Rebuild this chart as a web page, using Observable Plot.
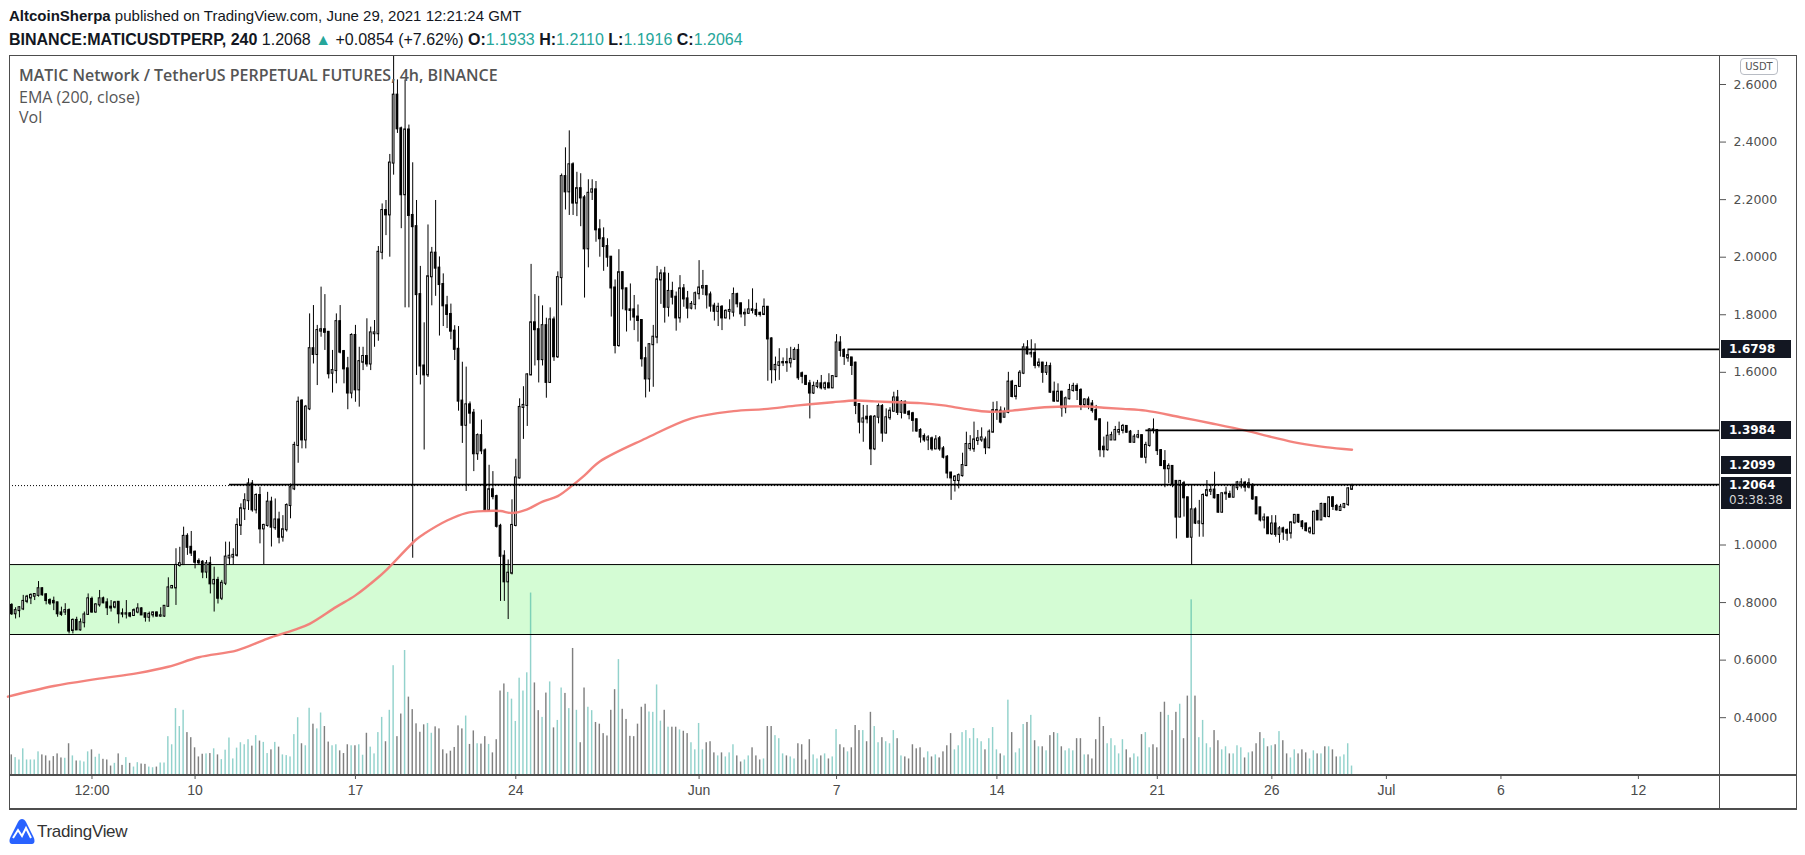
<!DOCTYPE html>
<html>
<head>
<meta charset="utf-8">
<script src="https://cdn.jsdelivr.net/npm/d3@7"></script>
<script src="https://cdn.jsdelivr.net/npm/@observablehq/plot@0.6"></script>
<style>
html,body{margin:0;padding:0;background:#fff;}
#wrap{position:relative;width:1805px;height:855px;overflow:hidden;background:#fff;font-family:"Liberation Sans",Arial,sans-serif;color:#131722;}
#wrap svg{position:absolute;left:0;top:0;}
.ln{position:absolute;background:#4d4d4d;}
.hdr{position:absolute;left:9px;font-size:16px;line-height:20px;white-space:nowrap;}
.teal{color:#26a69a;}
.legend{position:absolute;left:19px;font-family:"Open Sans",sans-serif;font-size:16px;color:#555;white-space:nowrap;line-height:20px;}
.tag{position:absolute;left:1721px;width:70px;background:#131722;color:#fff;font-family:"DejaVu Sans",sans-serif;font-weight:bold;font-size:12px;padding-left:8px;box-sizing:border-box;line-height:18px;}
.badge{position:absolute;left:1740px;top:58px;width:38px;height:17px;border:1px solid #b8bcc4;border-radius:4px;background:#fff;font-family:"DejaVu Sans",sans-serif;font-size:10px;color:#555;text-align:center;line-height:15px;box-sizing:border-box;}
.logo{position:absolute;left:9px;top:818px;display:flex;align-items:center;font-size:17px;color:#333;}
</style>
</head>
<body>
<div id="wrap"></div>
<script>
// ---------- data (4h candles, first candle opens 2021-05-01 20:00 UTC) ----------
const openP = [
.800,.790,.761,.772,.778,.804,.816,.822,.825,.848,
.827,.807,.804,.799,.764,.767,.772,.703,.738,.705,
.730,.759,.811,.767,.792,.813,.799,.784,.784,.801,
.761,.760,.761,.755,.767,.778,.761,.749,.757,.764,
.753,.753,.787,.851,.851,.929,.932,1.030,.992,.975,
.943,.940,.906,.935,.865,.877,.815,.867,.955,.958,
.964,1.068,1.126,1.154,1.212,1.122,1.172,1.056,1.068,1.149,
1.060,1.087,1.027,1.053,1.137,1.195,1.346,1.500,1.365,1.473,
1.682,1.662,1.743,1.748,1.739,1.597,1.606,1.776,1.672,1.612,
1.528,1.728,1.539,1.635,1.655,1.629,1.734,1.734,2.017,2.162,
2.147,2.327,2.563,2.446,2.217,2.442,2.145,2.106,1.870,1.622,
1.591,1.932,2.014,1.962,1.905,1.831,1.801,1.743,1.680,1.500,
1.416,1.487,1.458,1.317,1.380,1.327,1.120,1.192,1.168,1.065,
.961,.872,.902,1.068,1.233,1.478,1.485,1.591,1.772,1.748,
1.644,1.762,1.565,1.782,1.654,1.929,2.280,2.227,2.321,2.188,
2.238,2.206,2.029,2.226,2.234,2.095,2.064,2.037,2.000,1.893,
1.693,1.946,1.890,1.817,1.817,1.792,1.780,1.647,1.577,1.696,
1.722,1.921,1.942,1.826,1.881,1.861,1.789,1.890,1.855,1.823,
1.836,1.873,1.893,1.898,1.869,1.830,1.812,1.826,1.789,1.812,
1.809,1.870,1.838,1.803,1.805,1.817,1.815,1.805,1.801,1.826,
1.716,1.609,1.624,1.633,1.634,1.633,1.645,1.676,1.595,1.586,
1.560,1.528,1.551,1.560,1.546,1.560,1.546,1.585,1.702,1.676,
1.650,1.650,1.632,1.488,1.427,1.444,1.444,1.334,1.444,1.481,
1.389,1.442,1.465,1.511,1.461,1.496,1.461,1.456,1.435,1.398,
1.377,1.365,1.369,1.334,1.369,1.334,1.305,1.250,1.224,1.224,
1.241,1.276,1.335,1.334,1.363,1.365,1.365,1.338,1.392,1.465,
1.465,1.444,1.461,1.566,1.516,1.551,1.597,1.685,1.664,1.666,
1.624,1.632,1.600,1.620,1.531,1.500,1.531,1.477,1.508,1.537,
1.551,1.537,1.488,1.504,1.490,1.467,1.435,1.340,1.331,1.365,
1.365,1.392,1.398,1.412,1.392,1.357,1.375,1.380,1.305,1.346,
1.400,1.398,1.328,1.290,1.265,1.273,1.221,1.097,1.213,1.164,
1.027,1.122,1.076,1.074,1.172,1.187,1.191,1.172,1.114,1.178,
1.175,1.166,1.199,1.205,1.215,1.201,1.207,1.164,1.129,1.087,
1.094,1.039,1.073,1.037,1.056,1.050,1.041,1.077,1.103,1.080,
1.073,1.045,1.039,1.117,1.087,1.141,1.099,1.164,1.134,1.120,
1.131,1.141,1.1933];
const highP = [
.811,.796,.782,.786,.825,.825,.830,.830,.873,.851,
.830,.813,.819,.801,.784,.796,.778,.743,.749,.743,
.767,.830,.819,.796,.842,.819,.813,.807,.804,.802,
.778,.807,.764,.778,.796,.782,.763,.767,.767,.767,
.782,.788,.886,.859,.987,.992,1.062,1.039,1.047,.979,
.952,.946,.946,.958,.923,.888,.877,1.010,1.010,.987,
1.091,1.143,1.178,1.230,1.224,1.178,1.201,1.072,1.183,1.166,
1.160,1.114,1.102,1.143,1.212,1.357,1.514,1.505,1.485,1.803,
1.832,1.763,1.896,1.870,1.742,1.676,1.803,1.832,1.676,1.652,
1.734,1.763,1.687,1.687,1.786,1.757,1.780,2.037,2.185,2.197,
2.357,2.720,2.616,2.452,2.616,2.459,2.328,2.197,1.968,1.772,
2.112,2.034,2.197,2.001,1.942,1.864,1.837,1.762,1.759,1.635,
1.618,1.497,1.471,1.386,1.434,1.334,1.277,1.255,1.173,1.072,
.980,.948,1.157,1.298,1.508,1.550,1.595,1.975,1.870,1.864,
1.831,1.788,1.824,1.792,1.949,2.289,2.380,2.439,2.328,2.295,
2.290,2.214,2.269,2.269,2.263,2.130,2.102,2.064,2.002,1.921,
2.026,1.950,1.892,1.907,1.867,1.834,1.783,1.687,1.699,1.763,
1.968,1.956,1.965,1.944,1.913,1.879,1.936,1.905,1.881,1.846,
1.879,1.988,1.954,1.902,1.879,1.840,1.840,1.832,1.817,1.852,
1.893,1.875,1.840,1.820,1.852,1.890,1.840,1.809,1.855,1.829,
1.720,1.653,1.682,1.650,1.682,1.687,1.685,1.697,1.601,1.589,
1.572,1.566,1.572,1.589,1.566,1.595,1.589,1.731,1.724,1.682,
1.676,1.650,1.635,1.490,1.485,1.485,1.450,1.450,1.490,1.488,
1.473,1.477,1.531,1.537,1.502,1.500,1.467,1.461,1.438,1.404,
1.386,1.380,1.375,1.380,1.377,1.342,1.311,1.253,1.241,1.247,
1.319,1.392,1.380,1.427,1.398,1.407,1.375,1.400,1.496,1.498,
1.480,1.476,1.600,1.572,1.554,1.606,1.699,1.710,1.713,1.699,
1.647,1.635,1.635,1.632,1.566,1.560,1.534,1.514,1.558,1.562,
1.560,1.543,1.508,1.514,1.502,1.485,1.438,1.375,1.427,1.392,
1.412,1.427,1.419,1.415,1.398,1.384,1.398,1.381,1.357,1.404,
1.438,1.400,1.331,1.328,1.282,1.276,1.224,1.224,1.221,1.166,
1.207,1.129,1.155,1.178,1.224,1.207,1.253,1.175,1.180,1.201,
1.187,1.210,1.221,1.230,1.221,1.230,1.213,1.166,1.131,1.108,
1.097,1.102,1.102,1.064,1.062,1.056,1.080,1.105,1.106,1.085,
1.076,1.062,1.117,1.120,1.145,1.143,1.166,1.168,1.141,1.141,
1.143,1.199,1.2110];
const lowP = [
.767,.755,.743,.747,.772,.796,.793,.807,.819,.822,
.792,.790,.772,.749,.752,.755,.691,.691,.703,.701,
.712,.755,.763,.763,.784,.796,.755,.767,.778,.726,
.747,.743,.747,.752,.761,.755,.732,.732,.747,.749,
.749,.749,.784,.848,.790,.923,.929,.964,.960,.917,
.929,.883,.883,.830,.767,.795,.807,.859,.929,.929,
.958,1.033,1.085,1.120,1.114,1.108,1.004,.932,1.062,.993,
1.051,1.004,1.010,1.045,1.091,1.189,1.284,1.334,1.334,1.467,
1.629,1.554,1.722,1.676,1.577,1.528,1.560,1.664,1.560,1.470,
1.508,1.496,1.479,1.606,1.618,1.606,1.687,1.708,1.991,2.075,
2.000,2.285,2.430,2.099,1.824,1.824,.954,1.589,1.556,1.330,
1.582,1.831,1.864,1.726,1.759,1.752,1.713,1.641,1.465,1.353,
1.186,1.420,1.255,1.294,1.314,1.118,1.118,1.157,1.059,.804,
.804,.741,.896,1.063,1.229,1.367,1.412,1.588,1.622,1.563,
1.622,1.510,1.563,1.638,1.648,1.831,2.164,2.145,2.145,2.141,
2.106,1.858,1.963,2.197,2.052,2.000,1.951,1.965,1.792,1.664,
1.687,1.817,1.740,1.778,1.745,1.705,1.618,1.511,1.531,1.548,
1.699,1.836,1.771,1.792,1.834,1.743,1.771,1.826,1.786,1.817,
1.817,1.852,1.867,1.820,1.809,1.778,1.759,1.745,1.786,1.782,
1.792,1.824,1.789,1.759,1.801,1.803,1.792,1.792,1.797,1.569,
1.560,1.569,1.572,1.620,1.600,1.615,1.643,1.572,1.560,1.554,
1.438,1.523,1.543,1.539,1.537,1.543,1.543,1.583,1.653,1.624,
1.635,1.589,1.453,1.386,1.357,1.421,1.276,1.328,1.421,1.357,
1.386,1.433,1.461,1.450,1.438,1.456,1.435,1.392,1.392,1.354,
1.357,1.328,1.326,1.331,1.326,1.299,1.230,1.155,1.184,1.195,
1.236,1.273,1.326,1.322,1.346,1.357,1.314,1.334,1.390,1.433,
1.421,1.442,1.456,1.511,1.504,1.548,1.592,1.660,1.650,1.612,
1.615,1.562,1.589,1.527,1.496,1.496,1.444,1.456,1.504,1.531,
1.502,1.467,1.477,1.470,1.458,1.433,1.305,1.303,1.326,1.363,
1.363,1.380,1.386,1.388,1.354,1.354,1.369,1.303,1.282,1.340,
1.386,1.311,1.273,1.199,1.213,1.199,1.021,1.095,1.097,1.025,
.929,1.071,1.027,1.027,1.166,1.172,1.160,1.111,1.111,1.155,
1.164,1.164,1.189,1.195,1.184,1.195,1.155,1.106,1.080,1.056,
1.037,1.033,1.027,1.006,1.016,1.013,1.021,1.073,1.075,1.053,
1.045,1.037,1.037,1.085,1.085,1.094,1.094,1.120,1.118,1.118,
1.126,1.134,1.1916];
const closeP = [
.775,.761,.772,.782,.804,.819,.825,.828,.848,.827,
.807,.798,.799,.761,.759,.772,.701,.738,.705,.730,
.757,.813,.767,.792,.813,.799,.782,.781,.799,.761,
.760,.761,.753,.772,.778,.757,.749,.759,.764,.753,
.754,.787,.851,.856,.929,.935,1.030,.992,.972,.940,
.938,.906,.935,.865,.877,.815,.867,.958,.961,.964,
1.068,1.126,1.154,1.212,1.122,1.172,1.056,1.068,1.149,1.062,
1.087,1.027,1.053,1.137,1.199,1.346,1.496,1.365,1.479,1.682,
1.662,1.745,1.748,1.739,1.595,1.606,1.776,1.670,1.612,1.528,
1.728,1.539,1.637,1.655,1.629,1.737,1.737,2.017,2.162,2.147,
2.327,2.563,2.446,2.217,2.442,2.145,2.106,1.870,1.622,1.591,
1.932,2.014,1.962,1.905,1.831,1.801,1.743,1.680,1.500,1.416,
1.487,1.458,1.317,1.380,1.327,1.120,1.192,1.168,1.065,.961,
.872,.902,1.068,1.233,1.478,1.485,1.591,1.772,1.748,1.644,
1.762,1.565,1.782,1.654,1.929,2.280,2.227,2.321,2.188,2.238,
2.206,2.029,2.222,2.234,2.095,2.064,2.037,2.000,1.893,1.693,
1.946,1.890,1.817,1.815,1.792,1.780,1.647,1.577,1.696,1.722,
1.921,1.942,1.826,1.881,1.861,1.789,1.890,1.855,1.823,1.836,
1.873,1.893,1.898,1.869,1.830,1.812,1.826,1.789,1.812,1.815,
1.870,1.838,1.803,1.805,1.817,1.815,1.801,1.801,1.826,1.716,
1.609,1.624,1.633,1.634,1.633,1.645,1.676,1.581,1.586,1.558,
1.528,1.551,1.560,1.546,1.560,1.546,1.585,1.702,1.676,1.655,
1.658,1.624,1.485,1.427,1.438,1.438,1.334,1.444,1.481,1.389,
1.442,1.465,1.511,1.461,1.496,1.458,1.453,1.433,1.396,1.375,
1.365,1.372,1.334,1.365,1.334,1.305,1.250,1.233,1.236,1.241,
1.276,1.349,1.349,1.365,1.369,1.372,1.338,1.392,1.467,1.467,
1.427,1.461,1.566,1.516,1.551,1.597,1.685,1.664,1.666,1.624,
1.632,1.600,1.620,1.531,1.500,1.531,1.477,1.508,1.537,1.551,
1.537,1.488,1.504,1.488,1.467,1.435,1.331,1.331,1.378,1.380,
1.398,1.398,1.412,1.392,1.357,1.375,1.380,1.305,1.346,1.400,
1.398,1.328,1.276,1.265,1.273,1.213,1.097,1.221,1.164,1.027,
1.122,1.076,1.080,1.172,1.189,1.190,1.164,1.114,1.178,1.180,
1.166,1.207,1.216,1.216,1.201,1.213,1.160,1.108,1.087,1.094,
1.039,1.073,1.037,1.056,1.045,1.041,1.077,1.103,1.080,1.064,
1.050,1.056,1.114,1.087,1.141,1.099,1.164,1.134,1.122,1.131,
1.141,1.195,1.2064];
const volume = [
22.5,29,25,21.5,38,21.5,21.5,21.5,33.5,29,
27.5,20,26.5,30.5,24.5,24,45.5,27.5,20,20,
18.5,33.5,36.5,25.5,30,22.5,21.5,12.5,16.5,30.5,
13.5,25,16.5,11,17.5,15.5,15,11,10,11,
17,17,56,44,97.5,71,95,62,54.5,39.5,
26,30,30.5,31,38,29,22,36,54,23,
39,47,44,51.5,42,57.5,49.5,47.5,31,36.5,
47.5,40.5,29,28,26,59,84,45.5,42.5,98,
74.5,67.5,91,71,48,42.5,44,35,31,44,
42.5,42.5,44,28.5,61,40.5,30.5,62,84.5,48.5,
95,161,56,89.5,183.5,114.5,96,75,62.5,73.5,
75.5,61,70.5,67.5,36.5,30.5,34.5,40,72,67.5,
86.5,44.5,64.5,45.5,45,56,44.5,32,51.5,123.5,
134,121.5,111.5,78.5,142.5,123.5,150.5,268.5,135.5,94.5,
84.5,120.5,137,69,80,128,120,97.5,186.5,95,
47,128,99.5,94.5,77,74.5,60.5,57,95,125.5,
170,96.5,81.5,56.5,56,74.5,99.5,104,92.5,92,
132.5,79,95,70,70,70,66,64,60.5,47,
36.5,75.5,36.5,47,48.5,32,27.5,32,26,32,
44,27.5,18.5,21.5,27.5,39.5,27.5,21.5,23,71,
71,57.5,53,30.5,27.5,26,23,45.5,44,21.5,
51.5,29,23,27.5,30.5,23,26,66.5,44,39.5,
33.5,39.5,72.5,65,65,48.5,92,71,47,54.5,
48.5,45.5,65,53,27.5,26,23,44,38,39.5,
24.5,33.5,26,29,24.5,33.5,42.5,60.5,36.5,42.5,
62,65,53,68,53,48.5,36.5,53,69.5,36.5,
30.5,27.5,110,62,32,38,74,77,87.5,50,
41,41,35,57.5,62,60.5,41,35,38,35,
53,53,29,29,23,51.5,84.5,71,45.5,53,
42.5,30.5,51.5,36.5,24.5,30.5,26,59,62,39.5,
44,39.5,92,107,87.5,65,92,104,53,116,
258.5,116,54.5,80,45.5,39.5,65,50,36.5,41,
30.5,30.5,42.5,39.5,24.5,32,33.5,45.5,62,53,
41,42.5,44,63.5,50,30.5,24.5,36.5,30.5,36.5,
32,23,35,30.5,30.5,41,41,36.5,26,26,
29,45.5,12.5];
// EMA(200, close): candle index -> value
const emaIndex = [0,12,23,34,42,50,60,68,75,79,86,91,97,99,107,109,115,120,125,129,132,136,140,144,148,151,155,167,179,190,198,207,216,222,227,233,239,245,251,257,263,270,277,283,287,292,298,307,315,324,331,338,345,352];
const emaValue = [0.473,0.510,0.534,0.555,0.577,0.610,0.634,0.675,0.705,0.726,0.785,0.825,0.888,0.912,1.020,1.039,1.085,1.111,1.118,1.118,1.111,1.124,1.151,1.170,1.209,1.242,1.290,1.370,1.440,1.465,1.472,1.485,1.496,1.502,1.499,1.496,1.493,1.485,1.472,1.463,1.467,1.477,1.481,1.481,1.477,1.473,1.467,1.444,1.423,1.398,1.375,1.354,1.340,1.331];
// horizontal levels drawn on the chart
const levelPrice = [1.6798, 1.3984, 1.2099];
const levelStartIndex = [220, 298, 58];
const lastPrice = 1.2064;
const zoneLow = 0.689, zoneHigh = 0.932;
const priceTicks = [2.6, 2.4, 2.2, 2.0, 1.8, 1.6, 1.0, 0.8, 0.6, 0.4];
const dateTicks = ["2021-05-05T12:00Z","2021-05-10","2021-05-17","2021-05-24","2021-06-01","2021-06-07","2021-06-14","2021-06-21","2021-06-26","2021-07-01","2021-07-06","2021-07-12"];
const dateTickLabels = ["12:00","10","17","24","Jun","7","14","21","26","Jul","6","12"];

// ---------- setup ----------
const T0 = Date.UTC(2021, 4, 1, 20);
const STEP = 4 * 3600e3, DAY = 86400e3, HOUR = 3600e3;
const MAY10 = Date.UTC(2021, 4, 10);
const xDomain = [new Date(MAY10 - 8.10 * DAY), new Date(MAY10 + 66.54 * DAY)];
const yDomain = [0.2026, 2.7008];
const volDomain = [0, 1064];
const tOf = i => new Date(T0 + i * STEP);

const candles = closeP.map((c, i) => ({t: tOf(i), o: openP[i], h: highP[i], l: lowP[i], c, v: volume[i], up: c >= openP[i]}));
const emaPts = emaIndex.map((k, j) => ({t: tOf(k), v: emaValue[j]}));
const levels = levelPrice.map((p, j) => ({p, t: tOf(levelStartIndex[j])}));
const zone = [{x1: xDomain[0], x2: xDomain[1], y1: zoneLow, y2: zoneHigh}];
const tickDates = dateTicks.map(s => new Date(s));
const labelOf = new Map(tickDates.map((d, i) => [+d, dateTickLabels[i]]));

const base = {
  width: 1805, height: 855, marginLeft: 9, marginRight: 86, marginTop: 55, marginBottom: 81,
  style: {background: "transparent", overflow: "visible", maxWidth: "none"},
  color: {type: "identity"}
};

const wrap = document.getElementById("wrap");

// layer 1: demand zone fill
const p1 = Plot.plot({...base,
  x: {type: "utc", domain: xDomain, axis: null},
  y: {domain: yDomain, axis: null},
  marks: [Plot.rect(zone, {x1: "x1", x2: "x2", y1: "y1", y2: "y2", fill: "#d4fcd4"})]
});
wrap.appendChild(p1);

// layer 2: volume
const p2 = Plot.plot({...base,
  x: {type: "utc", domain: xDomain, axis: null},
  y: {domain: volDomain, axis: null},
  marks: [Plot.rect(candles, {
    x1: d => new Date(+d.t - 0.75 * HOUR), x2: d => new Date(+d.t + 0.75 * HOUR),
    y1: 0, y2: "v", fill: d => d.up ? "rgba(38,166,154,0.5)" : "rgba(0,0,0,0.5)", clip: true
  })]
});
wrap.appendChild(p2);

// layer 3: candles, EMA, levels, axes
const p3 = Plot.plot({...base,
  x: {type: "utc", domain: xDomain, label: null},
  y: {domain: yDomain, label: null},
  marks: [
    Plot.ruleY([zoneLow, zoneHigh], {stroke: "#000", strokeWidth: 1}),
    Plot.ruleX(candles, {x: "t", y1: "l", y2: "h", stroke: "#000", strokeWidth: 1, clip: true}),
    Plot.rect(candles, {
      x1: d => new Date(+d.t - 0.9 * HOUR), x2: d => new Date(+d.t + 0.9 * HOUR),
      y1: "o", y2: "c", fill: d => d.up ? "#ffffff" : "#000000", stroke: "#000", strokeWidth: 1,
      insetTop: -0.5, insetBottom: -0.5, clip: true
    }),
    Plot.line(emaPts, {x: "t", y: "v", stroke: "#f27c76", strokeWidth: 2.4, curve: "catmull-rom", strokeOpacity: 0.95}),
    Plot.ruleY([lastPrice], {stroke: "#000", strokeWidth: 1, strokeDasharray: "1 2"}),
    Plot.ruleY(levels, {y: "p", x1: "t", x2: () => xDomain[1], stroke: "#000", strokeWidth: 1.6}),
    Plot.axisY({anchor: "right", label: null, ticks: priceTicks, tickFormat: d3.format(".4f"), tickSize: 6, tickPadding: 8,
      fontSize: 12.5, fontFamily: "DejaVu Sans", fill: "#4f4f4f", stroke: "#555"}),
    Plot.axisX({anchor: "bottom", label: null, ticks: tickDates, tickFormat: d => labelOf.get(+d), tickSize: 5, tickPadding: 6,
      fontSize: 14, fontFamily: "Liberation Sans", fill: "#4a4a4a", stroke: "#555"})
  ]
});
wrap.appendChild(p3);

// ---------- html overlays ----------
function add(html) { wrap.insertAdjacentHTML("beforeend", html); }
add(`<div class="hdr" style="top:6px;font-size:15px"><b>AltcoinSherpa</b> published on TradingView.com, June 29, 2021 12:21:24 GMT</div>`);
add(`<div class="hdr" style="top:30px"><b>BINANCE:MATICUSDTPERP, 240</b> 1.2068 <span class="teal">&#9650;</span> +0.0854 (+7.62%) <b>O:</b><span class="teal">1.1933</span> <b>H:</b><span class="teal">1.2110</span> <b>L:</b><span class="teal">1.1916</span> <b>C:</b><span class="teal">1.2064</span></div>`);
add(`<div class="legend" style="top:65px;font-weight:600">MATIC Network / TetherUS PERPETUAL FUTURES, 4h, BINANCE</div>`);
add(`<div class="legend" style="top:87px">EMA (200, close)</div>`);
add(`<div class="legend" style="top:107px">Vol</div>`);

// frame lines
const L = (l, t, w, h) => add(`<div class="ln" style="left:${l}px;top:${t}px;width:${w}px;height:${h}px"></div>`);
L(9, 55, 1788, 1); L(9, 55, 1, 754); L(1796, 55, 1, 754); L(1719, 55, 1, 754);
L(9, 774, 1788, 1.5); L(9, 808, 1788, 1.5);

// price tags placed with the plot's own y scale
const ys = p3.scale("y");
const fmt = d3.format(".4f");
const tag = (v, off) => add(`<div class="tag" style="top:${ys.apply(v) + off - 9}px;height:18px">${fmt(v)}</div>`);
tag(levelPrice[0], 0); tag(levelPrice[1], 0); tag(levelPrice[2], -19);
add(`<div class="tag" style="top:${ys.apply(lastPrice) - 8}px;height:32px;line-height:15px;padding-top:1px">${fmt(lastPrice)}<br><span style="font-weight:normal;color:#d6d6d6">03:38:38</span></div>`);
add(`<div class="badge">USDT</div>`);

// footer logo
add(`<div class="logo"><svg width="26" height="28" viewBox="0 0 26 28" style="position:static"><path d="M3 26 C0 26 0 22 1.5 19 L9 4 C11 0 15 0 17 4 L24.5 19 C26 22 26 26 23 26 Z" fill="#2962ff"/><path d="M4 20 L9 12 L13 18 L17 10 L22 20" fill="none" stroke="#fff" stroke-width="2"/></svg><span style="margin-left:2px;letter-spacing:-0.3px">TradingView</span></div>`);
</script>
</body>
</html>
